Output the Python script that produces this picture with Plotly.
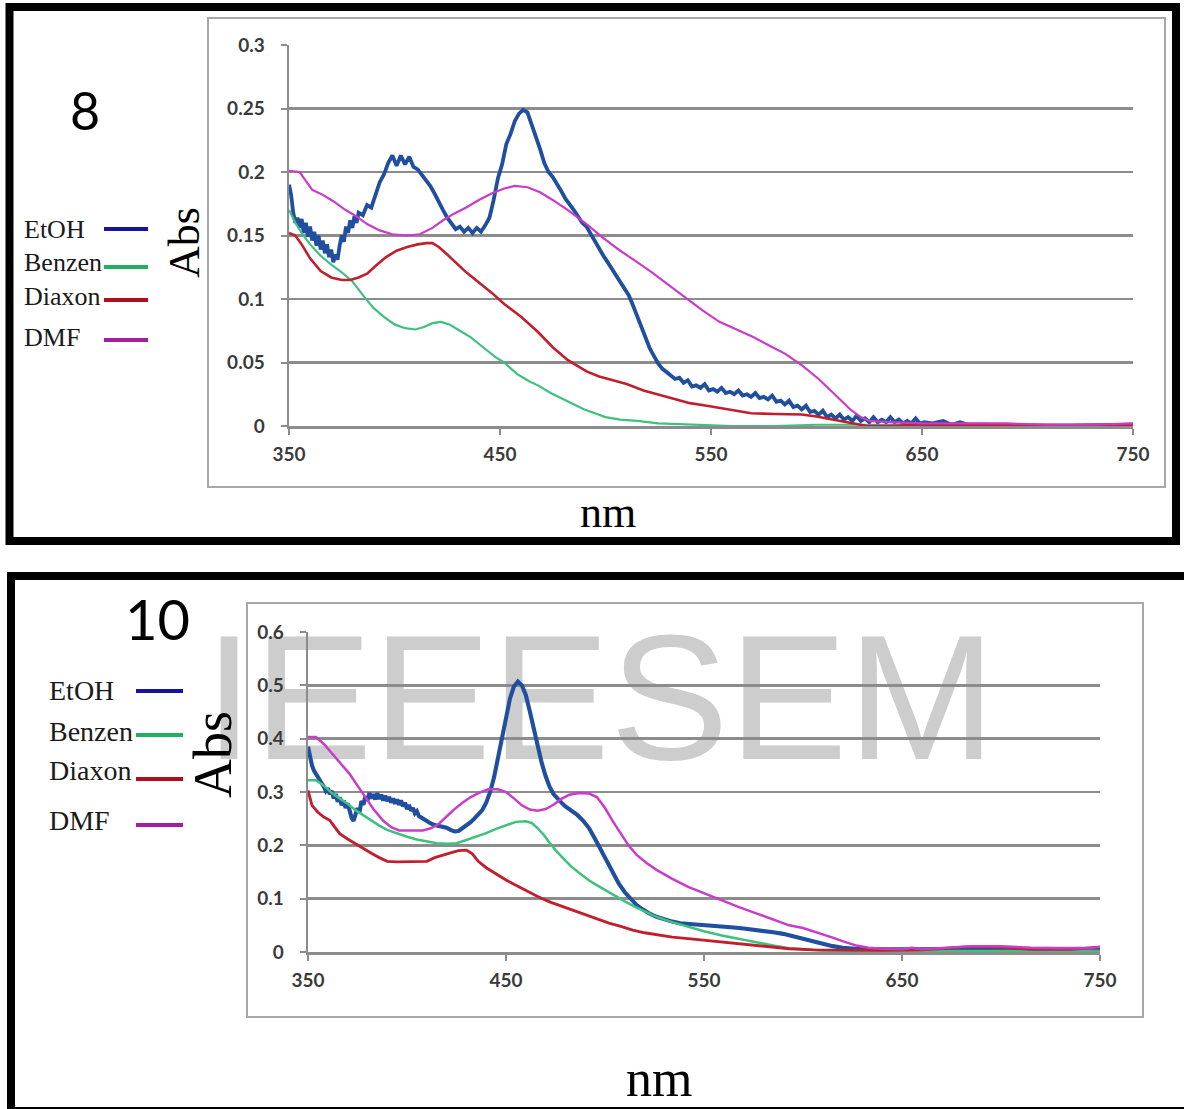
import plotly.graph_objects as go

# ---------------- data ----------------
SERIES = ["EtOH", "Benzen", "Diaxon", "DMF"]
COLORS = {"EtOH": "#1f4f9e", "Benzen": "#3cc27d", "Diaxon": "#c21f2e", "DMF": "#c93cc9"}
LEG_COLORS = {"EtOH": "#14149c", "Benzen": "#22b060", "Diaxon": "#b0101e", "DMF": "#a41ea4"}
WIDTHS = {"EtOH": 3.8, "Benzen": 2.2, "Diaxon": 2.6, "DMF": 2.2}

X_TICKS = [350, 450, 550, 650, 750]
X_TICK_TEXT = ["350", "450", "550", "650", "750"]
TOP_Y_TICKS = [0, 0.05, 0.1, 0.15, 0.2, 0.25, 0.3]
TOP_Y_TEXT = ["0", "0.05", "0.1", "0.15", "0.2", "0.25", "0.3"]
BOT_Y_TICKS = [0, 0.1, 0.2, 0.3, 0.4, 0.5, 0.6]
BOT_Y_TEXT = ["0", "0.1", "0.2", "0.3", "0.4", "0.5", "0.6"]

TOP_LABEL = "8"
BOT_LABEL = "10"
X_TITLE = "nm"
Y_TITLE = "Abs"
WATERMARK = "IEEESEM"

# ---- panel 8 ----
top_etoh_nm = [350, 351, 352, 353, 354, 355, 356, 357, 358, 359, 360, 361, 362, 363, 364, 365, 366, 367, 368, 369,
               370, 371, 372, 373, 374, 375, 376, 377, 378, 379, 380, 381, 382, 383, 385, 387, 389, 391, 393, 395,
               397, 399, 401, 403, 405, 407, 409, 411, 413, 415, 417, 419, 421, 423, 425, 427, 429, 431, 433, 435,
               437, 439, 441, 443, 445, 447, 449, 451, 453, 455, 457, 459, 461, 463, 465, 467, 469, 471, 473, 475,
               477, 479, 481, 483, 485, 487, 489, 491, 493, 495, 497, 499, 501, 503, 505, 507, 509, 511, 513, 515,
               517, 519, 521, 523, 525, 527, 529, 531, 533, 535, 537, 539, 541, 543, 545, 547, 549, 551, 553, 555,
               557, 559, 561, 563, 565, 567, 569, 571, 573, 575, 577, 579, 581, 583, 585, 587, 589, 591, 593, 595,
               597, 599, 601, 603, 605, 607, 609, 611, 613, 615, 617, 619, 621, 623, 625, 627, 629, 631, 633, 635,
               637, 639, 641, 643, 645, 647, 649, 651, 655, 660, 664, 668, 672, 680, 700, 720, 750]
top_etoh_abs = [0.190, 0.182, 0.168, 0.160, 0.164, 0.156, 0.163, 0.152, 0.160, 0.149, 0.157, 0.146, 0.153, 0.142,
                0.150, 0.139, 0.146, 0.136, 0.143, 0.133, 0.139, 0.129, 0.135, 0.131, 0.142, 0.150, 0.145, 0.157,
                0.152, 0.162, 0.156, 0.165, 0.160, 0.168, 0.166, 0.174, 0.172, 0.183, 0.192, 0.198, 0.207, 0.213,
                0.205, 0.213, 0.206, 0.212, 0.204, 0.202, 0.198, 0.194, 0.189, 0.183, 0.176, 0.170, 0.164, 0.160,
                0.155, 0.157, 0.153, 0.156, 0.152, 0.156, 0.153, 0.158, 0.164, 0.178, 0.195, 0.206, 0.222, 0.230,
                0.240, 0.246, 0.249, 0.247, 0.238, 0.228, 0.218, 0.207, 0.200, 0.196, 0.191, 0.185, 0.179, 0.175,
                0.170, 0.165, 0.160, 0.157, 0.151, 0.145, 0.140, 0.134, 0.129, 0.124, 0.119, 0.114, 0.109, 0.103,
                0.095, 0.086, 0.077, 0.069, 0.061, 0.055, 0.049, 0.045, 0.042, 0.040, 0.037, 0.038, 0.034, 0.036,
                0.031, 0.032, 0.030, 0.033, 0.028, 0.029, 0.027, 0.030, 0.026, 0.027, 0.025, 0.028, 0.024, 0.025,
                0.023, 0.026, 0.022, 0.023, 0.021, 0.024, 0.019, 0.020, 0.017, 0.020, 0.015, 0.016, 0.013, 0.016,
                0.011, 0.012, 0.009, 0.012, 0.007, 0.009, 0.006, 0.009, 0.005, 0.007, 0.004, 0.008, 0.004, 0.006,
                0.003, 0.007, 0.003, 0.005, 0.003, 0.007, 0.003, 0.005, 0.002, 0.004, 0.002, 0.006, 0.002, 0.003,
                0.002, 0.004, 0.001, 0.003, 0.001, 0.001, 0.000, 0.000, 0.001]

top_benz_nm = [350, 353, 356, 360, 365, 370, 375, 380, 385, 390, 395, 400, 405, 410, 414, 418, 422, 426, 430, 436,
               442, 448, 452, 458, 464, 468, 474, 480, 484, 490, 495, 500, 507, 515, 525, 540, 560, 580, 600, 620,
               640, 660, 700, 750]
top_benz_abs = [0.170, 0.160, 0.152, 0.143, 0.134, 0.127, 0.121, 0.114, 0.103, 0.093, 0.086, 0.080, 0.077, 0.076,
                0.078, 0.081, 0.082, 0.080, 0.076, 0.070, 0.062, 0.054, 0.050, 0.041, 0.035, 0.032, 0.026, 0.021,
                0.018, 0.013, 0.010, 0.007, 0.005, 0.004, 0.002, 0.001, 0.000, 0.000, 0.001, 0.001, 0.001, 0.000,
                0.000, 0.000]

top_diax_nm = [350, 353, 356, 360, 365, 370, 375, 379, 383, 387, 391, 396, 401, 406, 411, 415, 418, 421, 425, 429,
               434, 440, 446, 452, 460, 468, 475, 482, 488, 491, 497, 503, 510, 518, 525, 532, 540, 548, 555, 562,
               569, 580, 593, 600, 608, 616, 624, 635, 648, 670, 700, 750]
top_diax_abs = [0.152, 0.150, 0.143, 0.132, 0.122, 0.117, 0.115, 0.115, 0.117, 0.120, 0.126, 0.133, 0.138, 0.141,
                0.143, 0.144, 0.144, 0.141, 0.135, 0.129, 0.121, 0.113, 0.105, 0.096, 0.086, 0.074, 0.062, 0.052,
                0.046, 0.043, 0.039, 0.036, 0.033, 0.028, 0.025, 0.022, 0.018, 0.016, 0.014, 0.012, 0.010, 0.0095,
                0.009, 0.0075, 0.005, 0.002, 0.000, 0.000, 0.001, 0.001, 0.001, 0.001]

top_dmf_nm = [350, 355, 358, 361, 366, 371, 376, 382, 387, 393, 399, 406, 412, 418, 423, 428, 434, 440, 446, 452,
              457, 463, 469, 475, 483, 491, 499, 507, 515, 522, 530, 538, 546, 554, 562, 570, 578, 585, 593, 601,
              608, 616, 621, 625, 635, 650, 670, 690, 710, 730, 750]
top_dmf_abs = [0.201, 0.200, 0.193, 0.186, 0.182, 0.177, 0.171, 0.165, 0.159, 0.154, 0.151, 0.150, 0.151, 0.156,
               0.162, 0.167, 0.172, 0.178, 0.183, 0.187, 0.189, 0.188, 0.184, 0.178, 0.169, 0.159, 0.148, 0.138,
               0.129, 0.121, 0.111, 0.101, 0.091, 0.082, 0.076, 0.070, 0.063, 0.057, 0.048, 0.037, 0.026, 0.013,
               0.007, 0.004, 0.003, 0.002, 0.002, 0.002, 0.001, 0.001, 0.002]

# ---- panel 10 ----
bot_etoh_nm = [350, 351, 352, 353, 354, 355, 356, 357, 358, 359, 360, 361, 362, 363, 364, 365, 366, 367, 368, 369,
               370, 371, 372, 373, 374, 375, 376, 377, 378, 379, 380, 381, 382, 383, 384, 385, 386, 387, 388, 389,
               390, 391, 392, 393, 394, 395, 396, 397, 398, 399, 400, 401, 402, 403, 404, 405, 406, 408, 410, 412,
               414, 416, 418, 420, 422, 424, 426, 428, 430, 432, 434, 436, 438, 440, 442, 444, 446, 448, 450, 452,
               454, 456, 458, 460, 462, 464, 466, 468, 470, 472, 474, 476, 478, 480, 483, 486, 489, 492, 495, 498,
               501, 504, 507, 510, 513, 516, 519, 522, 526, 530, 534, 538, 542, 546, 550, 555, 560, 565, 570, 575,
               580, 585, 590, 595, 600, 605, 610, 615, 620, 625, 630, 640, 650, 660, 680, 700, 720, 740, 750]
bot_etoh_abs = [0.385, 0.365, 0.350, 0.340, 0.333, 0.330, 0.322, 0.316, 0.310, 0.302, 0.307, 0.296, 0.302, 0.288,
                0.296, 0.282, 0.290, 0.275, 0.284, 0.270, 0.279, 0.262, 0.252, 0.246, 0.262, 0.270, 0.262, 0.283,
                0.276, 0.292, 0.284, 0.298, 0.288, 0.296, 0.286, 0.298, 0.287, 0.295, 0.284, 0.293, 0.283, 0.291,
                0.280, 0.288, 0.278, 0.286, 0.276, 0.284, 0.273, 0.280, 0.268, 0.276, 0.265, 0.270, 0.260, 0.264,
                0.255, 0.250, 0.245, 0.241, 0.238, 0.236, 0.234, 0.233, 0.229, 0.226, 0.227, 0.232, 0.238, 0.243,
                0.250, 0.258, 0.266, 0.280, 0.300, 0.328, 0.365, 0.400, 0.440, 0.475, 0.498, 0.507, 0.500, 0.482,
                0.452, 0.418, 0.383, 0.355, 0.330, 0.310, 0.296, 0.287, 0.280, 0.273, 0.265, 0.257, 0.246, 0.232,
                0.212, 0.190, 0.168, 0.147, 0.128, 0.112, 0.099, 0.088, 0.080, 0.073, 0.066, 0.061, 0.057, 0.054,
                0.053, 0.051, 0.050, 0.049, 0.047, 0.046, 0.044, 0.042, 0.040, 0.037, 0.034, 0.030, 0.025, 0.020,
                0.015, 0.011, 0.008, 0.006, 0.005, 0.005, 0.005, 0.006, 0.006, 0.006, 0.005, 0.005, 0.006]

bot_benz_nm = [350, 354, 358, 362, 366, 370, 374, 378, 382, 386, 390, 395, 400, 405, 410, 415, 420, 425, 430, 435,
               440, 445, 450, 455, 460, 463, 466, 469, 472, 475, 479, 483, 487, 492, 496, 500, 505, 510, 515, 520,
               526, 534, 542, 550, 559, 567, 576, 585, 593, 600, 610, 630, 660, 700, 750]
bot_benz_abs = [0.322, 0.322, 0.312, 0.298, 0.288, 0.278, 0.266, 0.256, 0.246, 0.237, 0.229, 0.222, 0.216, 0.211,
                0.207, 0.204, 0.203, 0.204, 0.210, 0.216, 0.223, 0.231, 0.238, 0.244, 0.245, 0.242, 0.232, 0.220,
                0.205, 0.191, 0.175, 0.160, 0.148, 0.134, 0.125, 0.116, 0.105, 0.095, 0.085, 0.076, 0.066, 0.056,
                0.047, 0.039, 0.031, 0.025, 0.019, 0.012, 0.007, 0.005, 0.003, 0.002, 0.002, 0.002, 0.002]

bot_diax_nm = [350, 352, 355, 358, 361, 364, 366, 370, 374, 378, 382, 386, 390, 395, 400, 405, 410, 414, 418, 422,
               426, 430, 433, 436, 440, 445, 450, 455, 460, 466, 472, 478, 484, 490, 496, 502, 508, 514, 520, 527,
               534, 542, 550, 558, 567, 575, 584, 593, 605, 620, 640, 660, 675, 685, 700, 715, 735, 745, 750]
bot_diax_abs = [0.303, 0.275, 0.262, 0.253, 0.247, 0.233, 0.222, 0.212, 0.203, 0.193, 0.185, 0.177, 0.170, 0.169,
                0.169, 0.169, 0.170, 0.177, 0.182, 0.186, 0.190, 0.191, 0.184, 0.170, 0.158, 0.146, 0.135, 0.125,
                0.115, 0.104, 0.094, 0.086, 0.078, 0.070, 0.062, 0.054, 0.048, 0.041, 0.036, 0.032, 0.028, 0.025,
                0.022, 0.019, 0.016, 0.012, 0.009, 0.006, 0.004, 0.003, 0.003, 0.004, 0.008, 0.010, 0.009, 0.005,
                0.005, 0.008, 0.009]

bot_dmf_nm = [350, 354, 358, 362, 366, 371, 375, 379, 383, 388, 392, 396, 402, 408, 412, 416, 420, 424, 428, 432,
              436, 441, 446, 450, 454, 458, 462, 466, 470, 474, 478, 482, 487, 492, 496, 500, 504, 508, 512, 516,
              521, 526, 534, 542, 550, 559, 567, 576, 585, 593, 600, 608, 615, 621, 627, 633, 640, 650, 655, 660,
              670, 685, 700, 715, 730, 745, 750]
bot_dmf_abs = [0.403, 0.403, 0.390, 0.373, 0.356, 0.334, 0.312, 0.290, 0.268, 0.246, 0.234, 0.228, 0.228, 0.228,
               0.232, 0.240, 0.254, 0.268, 0.280, 0.290, 0.298, 0.305, 0.305, 0.300, 0.288, 0.275, 0.267, 0.265,
               0.268, 0.276, 0.287, 0.295, 0.298, 0.297, 0.290, 0.270, 0.245, 0.221, 0.199, 0.182, 0.167, 0.154,
               0.137, 0.122, 0.110, 0.097, 0.085, 0.073, 0.061, 0.050, 0.045, 0.036, 0.027, 0.019, 0.012, 0.008,
               0.006, 0.005, 0.008, 0.005, 0.007, 0.011, 0.011, 0.008, 0.007, 0.007, 0.010]

TOP_DATA = {"EtOH": (top_etoh_nm, top_etoh_abs), "Benzen": (top_benz_nm, top_benz_abs),
            "Diaxon": (top_diax_nm, top_diax_abs), "DMF": (top_dmf_nm, top_dmf_abs)}
BOT_DATA = {"EtOH": (bot_etoh_nm, bot_etoh_abs), "Benzen": (bot_benz_nm, bot_benz_abs),
            "Diaxon": (bot_diax_nm, bot_diax_abs), "DMF": (bot_dmf_nm, bot_dmf_abs)}

# ---------------- layout helpers ----------------
W, H = 1184, 1109


def fx(px):
    return px / W


def fy(py):
    return 1 - py / H


GRID = "#8c8c8c"
BOX = "#a8a8a8"
TICKFONT = dict(family="Lato", size=19, color="#3a3a3a", weight="bold")
SERIF = "Liberation Serif"

fig = go.Figure()

# watermark drawn in a full-page subplot that sits underneath both charts
fig.add_trace(go.Scatter(x=[600], y=[714], mode="text", text=[WATERMARK],
                         textposition="middle center",
                         textfont=dict(family="Liberation Sans", size=178, color="#cdcdcd"),
                         hoverinfo="skip", showlegend=False, xaxis="x", yaxis="y"))

for name in SERIES:
    xs, ys = TOP_DATA[name]
    fig.add_trace(go.Scatter(x=xs, y=ys, mode="lines", name=name, showlegend=False,
                             line=dict(color=COLORS[name], width=WIDTHS[name]),
                             xaxis="x2", yaxis="y2"))
for name in SERIES:
    xs, ys = BOT_DATA[name]
    fig.add_trace(go.Scatter(x=xs, y=ys, mode="lines", name=name, showlegend=False,
                             line=dict(color=COLORS[name], width=WIDTHS[name] + 0.3),
                             xaxis="x3", yaxis="y3"))


def xaxis_cfg(d0, d1, anchor):
    return dict(domain=[fx(d0), fx(d1)], range=[350, 750], anchor=anchor, automargin=False,
                tickmode="array", tickvals=X_TICKS, ticktext=X_TICK_TEXT,
                showgrid=False, zeroline=False, showline=True, linecolor=GRID, linewidth=2.5,
                ticks="outside", ticklen=6, tickwidth=2, tickcolor=GRID,
                tickfont=TICKFONT, ticklabelstandoff=4, fixedrange=True)


def yaxis_cfg(d0, d1, anchor, rng, vals, text):
    return dict(domain=[fy(d0), fy(d1)], range=rng, anchor=anchor, automargin=False,
                tickmode="array", tickvals=vals, ticktext=text,
                showgrid=True, gridcolor=GRID, gridwidth=2.5, zeroline=False,
                showline=True, linecolor=GRID, linewidth=2.5,
                ticks="outside", ticklen=6, tickwidth=2, tickcolor=GRID,
                tickfont=TICKFONT, ticklabelstandoff=12, fixedrange=True)


shapes = []
# black frames
shapes.append(dict(type="rect", xref="paper", yref="paper", x0=fx(9.5), x1=fx(1176), y0=fy(7), y1=fy(541),
                   line=dict(color="black", width=8)))
shapes.append(dict(type="rect", xref="paper", yref="paper", x0=fx(11), x1=fx(1192), y0=fy(576), y1=fy(1111),
                   line=dict(color="black", width=8)))
# chart-area boxes
shapes.append(dict(type="rect", xref="paper", yref="paper", x0=fx(208), x1=fx(1165), y0=fy(18), y1=fy(487),
                   line=dict(color=BOX, width=2)))
shapes.append(dict(type="rect", xref="paper", yref="paper", x0=fx(247), x1=fx(1143), y0=fy(603), y1=fy(1017),
                   line=dict(color=BOX, width=2)))

annotations = []
# panel numbers
annotations.append(dict(text=TOP_LABEL, x=fx(85), y=fy(110), xref="paper", yref="paper", showarrow=False,
                        xanchor="center", yanchor="middle", font=dict(family="Lato", size=52, color="black")))
annotations.append(dict(text=BOT_LABEL, x=fx(157), y=fy(618), xref="paper", yref="paper", showarrow=False,
                        xanchor="center", yanchor="middle", font=dict(family="Lato", size=56, color="black")))
# axis titles
annotations.append(dict(text=Y_TITLE, x=fx(184), y=fy(243), xref="paper", yref="paper", showarrow=False,
                        textangle=-90, xanchor="center", yanchor="middle",
                        font=dict(family=SERIF, size=44, color="black")))
annotations.append(dict(text=Y_TITLE, x=fx(213), y=fy(755), xref="paper", yref="paper", showarrow=False,
                        textangle=-90, xanchor="center", yanchor="middle",
                        font=dict(family=SERIF, size=54, color="black")))
annotations.append(dict(text=X_TITLE, x=fx(608), y=fy(512), xref="paper", yref="paper", showarrow=False,
                        xanchor="center", yanchor="middle", font=dict(family=SERIF, size=44, color="black")))
annotations.append(dict(text=X_TITLE, x=fx(659), y=fy(1078), xref="paper", yref="paper", showarrow=False,
                        xanchor="center", yanchor="middle", font=dict(family=SERIF, size=52, color="black")))

# hand-drawn style legends
TOP_LEG_TEXT_Y = [229, 263, 297, 338]
TOP_LEG_LINE_Y = [229, 267, 300, 340]
BOT_LEG_TEXT_Y = [690, 731, 770, 820]
BOT_LEG_LINE_Y = [691, 735, 779, 825]
for i, name in enumerate(SERIES):
    annotations.append(dict(text=name, x=fx(22), y=fy(TOP_LEG_TEXT_Y[i]), xref="paper", yref="paper",
                            showarrow=False, xanchor="left", yanchor="middle",
                            font=dict(family=SERIF, size=26, color="#1a1a1a")))
    shapes.append(dict(type="line", xref="paper", yref="paper", x0=fx(104), x1=fx(148),
                       y0=fy(TOP_LEG_LINE_Y[i]), y1=fy(TOP_LEG_LINE_Y[i]),
                       line=dict(color=LEG_COLORS[name], width=4)))
    annotations.append(dict(text=name, x=fx(47), y=fy(BOT_LEG_TEXT_Y[i]), xref="paper", yref="paper",
                            showarrow=False, xanchor="left", yanchor="middle",
                            font=dict(family=SERIF, size=28, color="#1a1a1a")))
    shapes.append(dict(type="line", xref="paper", yref="paper", x0=fx(136), x1=fx(183),
                       y0=fy(BOT_LEG_LINE_Y[i]), y1=fy(BOT_LEG_LINE_Y[i]),
                       line=dict(color=LEG_COLORS[name], width=4)))

fig.update_layout(
    width=W, height=H, margin=dict(l=0, r=0, t=0, b=0, pad=0, autoexpand=False),
    paper_bgcolor="white", plot_bgcolor="rgba(0,0,0,0)",
    showlegend=False,
    xaxis=dict(domain=[0, 1], range=[0, W], visible=False, fixedrange=True, automargin=False),
    yaxis=dict(domain=[0, 1], range=[H, 0], visible=False, fixedrange=True, automargin=False),
    xaxis2=xaxis_cfg(289, 1133, "y2"),
    yaxis2=yaxis_cfg(426, 45, "x2", [0, 0.3], TOP_Y_TICKS, TOP_Y_TEXT),
    xaxis3=xaxis_cfg(308, 1100, "y3"),
    yaxis3=yaxis_cfg(952, 632, "x3", [0, 0.6], BOT_Y_TICKS, BOT_Y_TEXT),
    shapes=shapes,
    annotations=annotations,
)

fig.write_html("out.html",
               config={"displayModeBar": False, "staticPlot": True},
               post_script="document.body.style.margin='0px';document.body.style.padding='0px';"
                           "document.body.style.overflow='hidden';")
